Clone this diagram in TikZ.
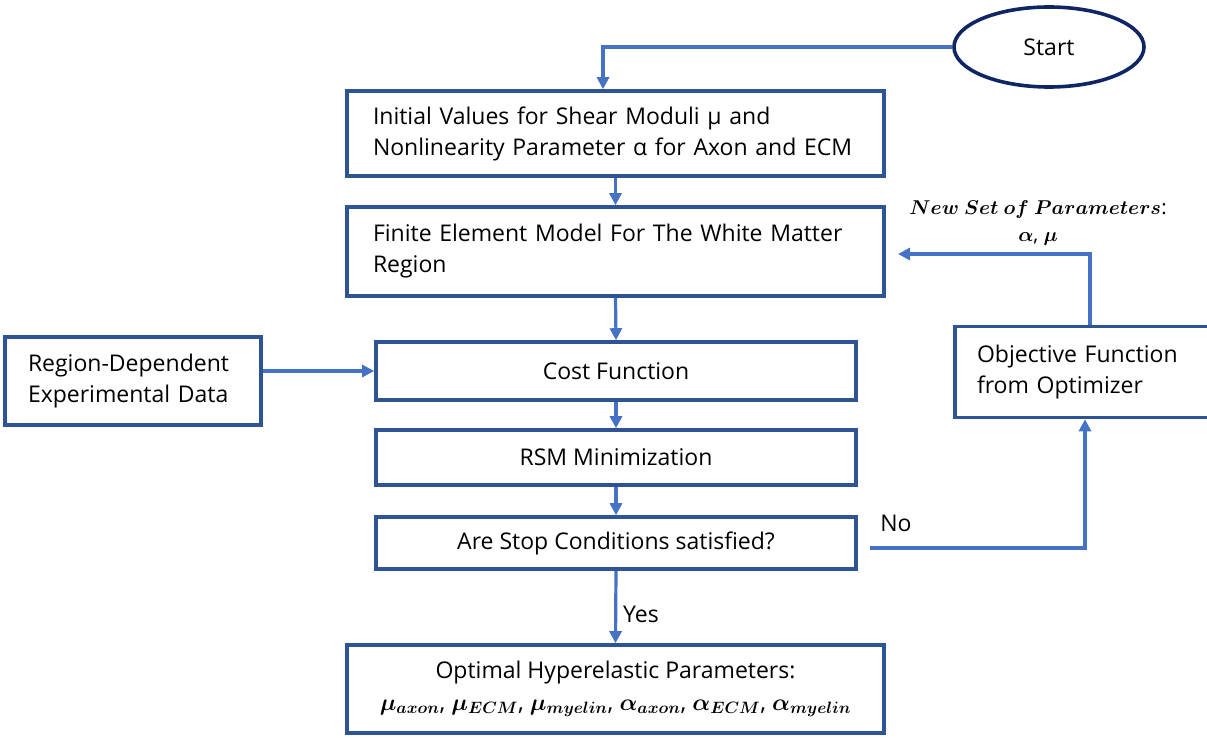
\RequirePackage{fix-cm}
\documentclass[tikz,border=0pt]{standalone}
\usepackage{amsmath,bm}
\usepackage{fontspec}
\setmainfont{Open Sans}
\usetikzlibrary{arrows.meta,shapes.geometric,calc}
\definecolor{boxc}{RGB}{47,84,150}
\definecolor{arrc}{RGB}{68,114,196}
\definecolor{ellc}{RGB}{16,38,100}
\begin{document}
\begin{tikzpicture}[x=1pt,y=-1pt,
  every node/.style={font=\fontsize{23}{31}\selectfont},
  box/.style={draw=boxc,line width=3.6pt,rectangle,inner ysep=0pt},
  arr/.style={draw=arrc,line width=3.2pt,-{Triangle[length=12pt,width=12pt]}},
  ln/.style={draw=arrc,line width=3.2pt}]
\useasboundingbox (0,0) rectangle (1207,738);
\node[draw=ellc,line width=3.6pt,ellipse,minimum width=190pt,minimum height=80pt] (start) at (1049,47) {Start};
\node[box,minimum height=85pt,text width=485pt,inner xsep=26pt,align=left] (b1) at (615.5,133.5)
  {Initial Values for Shear Moduli μ and\\Nonlinearity Parameter α for Axon and ECM};
\node[box,minimum height=89pt,text width=485pt,inner xsep=26pt,align=left] (b2) at (615.5,251.5)
  {Finite Element Model For The White Matter\\Region};
\node[box,minimum width=480pt,minimum height=58pt] (b3) at (616,371) {Cost Function};
\node[box,minimum width=480pt,minimum height=55pt] (b4) at (616,457.5) {RSM Minimization};
\node[box,minimum width=480pt,minimum height=52pt] (b5) at (616,543) {Are Stop Conditions satisfied?};
\node[box,minimum height=88pt,minimum width=537pt,align=center] (b6) at (615.5,689)
  {Optimal Hyperelastic Parameters:\\[1pt]
  {\fontsize{23.5}{30}\selectfont$\bm{\mu_{axon}}$, $\bm{\mu_{ECM}}$, $\bm{\mu_{myelin}}$, $\bm{\alpha_{axon}}$, $\bm{\alpha_{ECM}}$, $\bm{\alpha_{myelin}}$}};
\node[box,minimum height=88pt,text width=210pt,inner xsep=23pt,align=left] (left) at (133,381)
  {Region-Dependent\\Experimental Data\\[8pt]};
\node[box,minimum height=91pt,text width=220pt,inner xsep=22pt,align=left] (obj) at (1087,372)
  {Objective Function\\from Optimizer};
% labels
\node (yes) at (641,614) {Yes};
\node (no) at (896,523) {No};
\node[align=center,font=\fontsize{20}{27}\selectfont] (nsp) at (1038,223)
  {$\bm{New\ Set\ of\ Parameters}$:\\$\bm{\alpha}$, $\bm{\mu}$};
% connectors
\coordinate (s1) at (603,47);
\draw[arr] (start.west) -- (s1) -- (s1 |- b1.north);
\draw[arr] (b1.south) -- (b2.north);
\draw[arr] (b2.south) -- (b3.north);
\draw[arr] (b3.south) -- (b4.north);
\draw[arr] (b4.south) -- (b5.north);
\draw[arr] (b5.south) -- (b6.north);
\draw[arr] (left.east |- 0,371) -- (b3.west);
\coordinate (n1) at (870,548);
\coordinate (n2) at (1085,548);
\draw[arr] (n1) -- (n2) -- (n2 |- obj.south);
\coordinate (o1) at (1090,254);
\coordinate (o2) at (898,254);
\draw[arr] (o1 |- obj.north) -- (o1) -- (o2);
\end{tikzpicture}
\end{document}
